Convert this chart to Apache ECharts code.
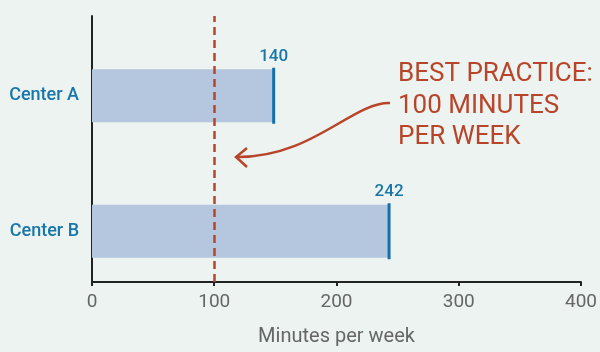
<!DOCTYPE html>
<html>
<head>
<meta charset="utf-8">
<script src="https://cdn.jsdelivr.net/npm/echarts@6/dist/echarts.min.js"></script>
<style>
html,body{margin:0;padding:0;background:#ecf3f0;}
#chart{width:600px;height:352px;}
</style>
</head>
<body>
<div id="chart"></div>
<script>
const categories = ['Center A', 'Center B'];
const minutes = [148, 242];
const valueLabels = ['140', '242'];
const bestPractice = 100;
const xTicks = [0, 100, 200, 300, 400];
const annotationLines = ['BEST PRACTICE:', '100 MINUTES', 'PER WEEK'];
const axisTitle = 'Minutes per week';

const FONT = 'Roboto, "DejaVu Sans", sans-serif';
const BLUE = '#1876a8';
const RED = '#b8452a';

const chart = echarts.init(document.getElementById('chart'));
chart.setOption({
  backgroundColor: '#ecf3f0',
  animation: false,
  textStyle: { fontFamily: FONT },
  grid: [
    { left: 92, right: 17, top: 16, height: 274, containLabel: false },
    { left: 92, right: 17, top: 28, height: 271, containLabel: false }
  ],
  xAxis: [
    {
      gridIndex: 0, type: 'value',
      min: xTicks[0], max: xTicks[xTicks.length - 1], interval: 100,
      axisLine: { show: true, lineStyle: { color: '#222', width: 2 } },
      axisTick: { show: true, length: 4, lineStyle: { color: '#222', width: 2 } },
      splitLine: { show: false },
      axisLabel: { color: '#666', fontSize: 19, margin: 11, fontFamily: FONT },
      name: axisTitle, nameLocation: 'middle', nameGap: 45,
      nameTextStyle: { color: '#666', fontSize: 20, fontFamily: FONT }
    },
    {
      gridIndex: 1, type: 'value',
      min: xTicks[0], max: xTicks[xTicks.length - 1],
      show: false
    }
  ],
  yAxis: [
    {
      gridIndex: 0, type: 'value', min: 0, max: 1,
      axisLine: { show: true, lineStyle: { color: '#222', width: 2 } },
      axisTick: { show: false }, axisLabel: { show: false }, splitLine: { show: false }
    },
    {
      gridIndex: 1, type: 'category', data: categories, inverse: true,
      axisLine: { show: false }, axisTick: { show: false }, splitLine: { show: false },
      axisLabel: { color: BLUE, fontSize: 18, fontWeight: 500, margin: 13, fontFamily: FONT }
    }
  ],
  series: [
    {
      type: 'line', xAxisIndex: 0, yAxisIndex: 0, data: [], silent: true,
      markLine: {
        symbol: 'none', silent: true,
        label: { show: false },
        lineStyle: { color: RED, type: [8, 5], width: 2.5 },
        data: [{ xAxis: bestPractice }]
      }
    },
    {
      type: 'bar', xAxisIndex: 1, yAxisIndex: 1,
      data: minutes, barWidth: 53,
      itemStyle: { color: '#b4c7df' }
    },
    {
      type: 'scatter', xAxisIndex: 1, yAxisIndex: 1,
      data: minutes.map((v, i) => [v, i]),
      symbol: 'rect', symbolSize: [3, 56],
      itemStyle: { color: '#1670a8', opacity: 1 },
      label: {
        show: true, position: 'top', distance: 3,
        color: BLUE, fontSize: 17, fontWeight: 500, fontFamily: FONT,
        formatter: p => valueLabels[p.dataIndex]
      }
    }
  ],
  graphic: [
    {
      type: 'text', left: 398, top: 59,
      style: {
        text: annotationLines.join('\n'),
        fill: RED, font: '26px ' + FONT, lineHeight: 31.5
      }
    },
    {
      type: 'bezierCurve',
      shape: { x1: 390, y1: 103, cpx1: 352, cpy1: 102, cpx2: 312, cpy2: 158, x2: 236, y2: 157 },
      style: { stroke: RED, lineWidth: 2.5, fill: 'none' }
    },
    {
      type: 'polyline',
      shape: { points: [[247, 148], [236, 157], [247, 167]] },
      style: { stroke: RED, lineWidth: 2.5, fill: 'none' }
    }
  ]
});
</script>
</body>
</html>
